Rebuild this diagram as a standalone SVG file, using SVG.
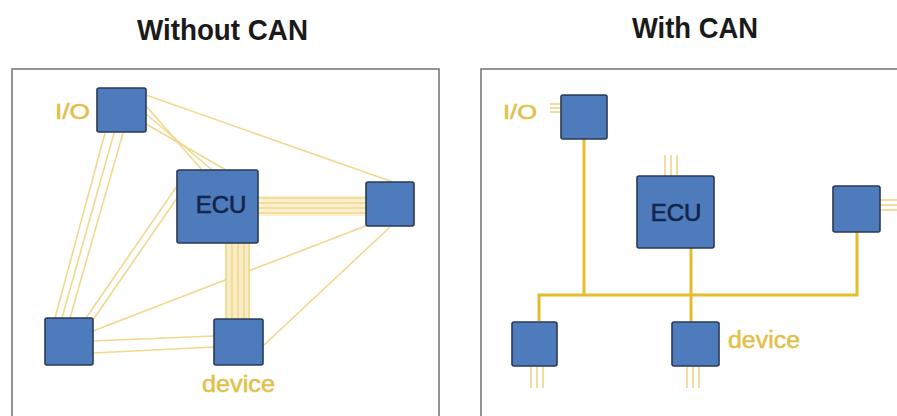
<svg xmlns="http://www.w3.org/2000/svg" width="897" height="416" viewBox="0 0 897 416">
<style>
.title{font-family:"Liberation Sans",Arial,sans-serif;font-weight:bold;font-size:30px;fill:#1a1a1a}
.frame{fill:none;stroke:#7a7a7a;stroke-width:1.6}
.box{fill:#4d7bbb;stroke:#2a3a56;stroke-width:1.6}
.ecu{font-family:"Liberation Sans",Arial,sans-serif;font-size:24px;fill:#13244a;stroke:#13244a;stroke-width:0.6;text-anchor:middle}
.lbl{font-family:"Liberation Sans",Arial,sans-serif;fill:#e2bf48;stroke:#e2bf48;stroke-width:0.5}
.w{stroke:#f0d98e;stroke-width:1.6;fill:none}
.bus{stroke:#e3bd2c;stroke-width:3;fill:none}
.stub{stroke:#efd58a;stroke-width:1.6;fill:none}
</style>
<rect width="897" height="416" fill="#ffffff"/>
<text class="title" x="137" y="40" textLength="171" lengthAdjust="spacingAndGlyphs">Without CAN</text>
<text class="title" x="632" y="38" textLength="126" lengthAdjust="spacingAndGlyphs">With CAN</text>
<rect class="frame" x="12" y="69" width="427" height="360"/>
<rect class="frame" x="481" y="69" width="430" height="360"/>
<g id="connectors">
<line class="w" x1="105" y1="133" x2="55" y2="318"/>
<line class="w" x1="114" y1="133" x2="62" y2="318"/>
<line class="w" x1="123" y1="133" x2="70" y2="318"/>
<line class="w" x1="146" y1="106" x2="202" y2="170"/>
<line class="w" x1="146" y1="114" x2="212" y2="170"/>
<line class="w" x1="146" y1="124" x2="226" y2="170"/>
<line class="w" x1="146" y1="95" x2="393" y2="182"/>
<line class="w" x1="86" y1="318" x2="177" y2="186"/>
<line class="w" x1="93" y1="320" x2="177" y2="198"/>
<line class="w" x1="93" y1="331" x2="368" y2="225"/>
<line class="w" x1="93" y1="341" x2="214" y2="336"/>
<line class="w" x1="93" y1="353" x2="214" y2="347"/>
<rect x="225" y="243" width="25" height="76" fill="#f8ecc4"/>
<line class="w" x1="226" y1="243" x2="226" y2="319"/>
<line class="w" x1="232" y1="243" x2="232" y2="319"/>
<line class="w" x1="238" y1="243" x2="238" y2="319"/>
<line class="w" x1="244" y1="243" x2="244" y2="319"/>
<line class="w" x1="249" y1="243" x2="249" y2="319"/>
<rect x="258" y="196" width="108" height="20" fill="#faf0cf"/>
<line class="w" x1="258" y1="198" x2="366" y2="198"/>
<line class="w" x1="258" y1="203" x2="366" y2="203"/>
<line class="w" x1="258" y1="208" x2="366" y2="208"/>
<line class="w" x1="258" y1="213" x2="366" y2="213"/>
<line class="w" x1="390" y1="227" x2="263" y2="346"/>
<polyline class="bus" points="539,321 539,295 857,295 857,232"/>
<line class="bus" x1="584" y1="139" x2="584" y2="295"/>
<line class="bus" x1="691" y1="248" x2="691" y2="322"/>
<line class="stub" x1="550" y1="104" x2="561" y2="104"/>
<line class="stub" x1="550" y1="108" x2="561" y2="108"/>
<line class="stub" x1="550" y1="112" x2="561" y2="112"/>
<line class="stub" x1="665" y1="155" x2="665" y2="176"/>
<line class="stub" x1="671" y1="155" x2="671" y2="176"/>
<line class="stub" x1="677" y1="155" x2="677" y2="176"/>
<line class="stub" x1="880" y1="200" x2="897" y2="200"/>
<line class="stub" x1="880" y1="205" x2="897" y2="205"/>
<line class="stub" x1="880" y1="210" x2="897" y2="210"/>
<line class="stub" x1="531" y1="366" x2="531" y2="388"/>
<line class="stub" x1="537" y1="366" x2="537" y2="388"/>
<line class="stub" x1="543" y1="366" x2="543" y2="388"/>
<line class="stub" x1="687" y1="366" x2="687" y2="388"/>
<line class="stub" x1="693" y1="366" x2="693" y2="388"/>
<line class="stub" x1="699" y1="366" x2="699" y2="388"/>
</g>
<g id="l-io"><rect class="box" x="97" y="88" width="49" height="44" rx="2"/><text class="lbl" x="55" y="119" font-size="22" textLength="35" lengthAdjust="spacingAndGlyphs">I/O</text></g>
<g id="l-ecu"><rect class="box" x="177" y="170" width="81" height="73" rx="2"/><text class="ecu" x="221" y="213">ECU</text></g>
<g id="l-right"><rect class="box" x="366" y="182" width="48" height="44" rx="2"/></g>
<g id="l-bl"><rect class="box" x="45" y="318" width="48" height="47" rx="2"/></g>
<g id="l-device"><rect class="box" x="214" y="319" width="49" height="46" rx="2"/><text class="lbl" x="202" y="392" font-size="24" textLength="73" lengthAdjust="spacingAndGlyphs">device</text></g>
<g id="r-io"><rect class="box" x="561" y="95" width="46" height="44" rx="2"/><text class="lbl" x="503" y="119" font-size="20" textLength="34" lengthAdjust="spacingAndGlyphs">I/O</text></g>
<g id="r-ecu"><rect class="box" x="637" y="176" width="77" height="72" rx="2"/><text class="ecu" x="676" y="221">ECU</text></g>
<g id="r-right"><rect class="box" x="833" y="186" width="47" height="46" rx="2"/></g>
<g id="r-bl"><rect class="box" x="512" y="322" width="45" height="44" rx="2"/></g>
<g id="r-device"><rect class="box" x="672" y="322" width="47" height="44" rx="2"/><text class="lbl" x="728" y="348" font-size="23" textLength="72" lengthAdjust="spacingAndGlyphs">device</text></g>
</svg>
